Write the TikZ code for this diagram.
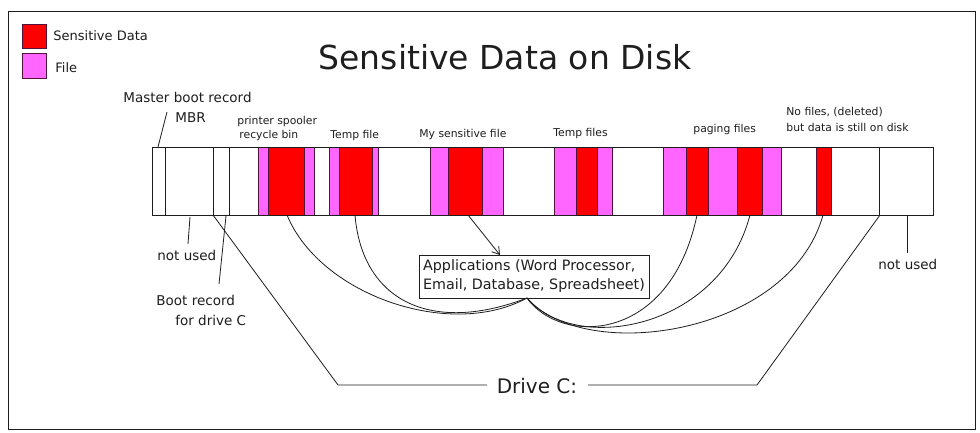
\documentclass[tikz,border=0pt]{standalone}
\usepackage{fontspec}
\setmainfont{DejaVu Sans}
\usetikzlibrary{arrows.meta}
\definecolor{sens}{RGB}{255,0,0}
\definecolor{filec}{RGB}{255,102,255}
\definecolor{edgec}{RGB}{80,20,60}
\definecolor{ink}{RGB}{30,30,30}
\begin{document}
\begin{tikzpicture}[x=1pt,y=-1pt,line width=0.8pt,
  ln/.style={draw=ink,line width=0.8pt},
  sblk/.style={fill=sens,draw=edgec,line width=0.6pt},
  fblk/.style={fill=filec,draw=edgec,line width=0.6pt},
  small/.style={inner sep=0pt,anchor=base west,text=ink,font=\fontsize{10.8}{13}\selectfont},
  mid/.style={inner sep=0pt,anchor=base west,text=ink,font=\fontsize{13.5}{16}\selectfont},
  leg/.style={inner sep=0pt,anchor=base west,text=ink,font=\fontsize{13}{16}\selectfont}]
\useasboundingbox (0,0) rectangle (980,432);
\fill[white] (0,0) rectangle (980,432);
% frame
\draw[ink,line width=1pt] (8,11) rectangle (975,429);
% legend
\draw[sblk] (22,24) rectangle (46,48);
\draw[fblk] (22,53) rectangle (46,78);
\node[leg] (lsens) at (53,40) {Sensitive Data};
\node[leg] (lfile) at (55,72) {File};
% title
\node[inner sep=0pt,anchor=base,text=ink,font=\fontsize{33}{38}\selectfont] (title) at (505,69) {Sensitive Data on Disk};
% disk bar blocks
\draw[fblk] (258,147) rectangle (268,215);
\draw[sblk] (268,147) rectangle (304,215);
\draw[fblk] (304,147) rectangle (314,215);
\draw[fblk] (329,147) rectangle (339,215);
\draw[sblk] (339,147) rectangle (372,215);
\draw[fblk] (372,147) rectangle (378,215);
\draw[fblk] (430,147) rectangle (448,215);
\draw[sblk] (448,147) rectangle (482,215);
\draw[fblk] (482,147) rectangle (503,215);
\draw[fblk] (554,147) rectangle (576,215);
\draw[sblk] (576,147) rectangle (597,215);
\draw[fblk] (597,147) rectangle (612,215);
\draw[fblk] (663,147) rectangle (686,215);
\draw[sblk] (686,147) rectangle (708,215);
\draw[fblk] (708,147) rectangle (737,215);
\draw[sblk] (737,147) rectangle (762,215);
\draw[fblk] (762,147) rectangle (781,215);
\draw[sblk] (816,147) rectangle (831,215);
\draw[ln] (165,147) -- (165,215);
\draw[ln] (213,147) -- (213,215);
\draw[ln] (229,147) -- (229,215);
\draw[ln] (879,147) -- (879,215);
\draw[ln] (152,147) rectangle (933,215);
% top labels
\node[mid] (mbrtitle) at (123,102) {Master boot record};
\node[mid] (mbr) at (175,122) {MBR};
\node[small] (spool) at (237,124) {printer spooler};
\node[small] (recyc) at (239,138) {recycle bin};
\node[small] (tmp1) at (330,138) {Temp file};
\node[small] (mysens) at (419,137) {My sensitive file};
\node[small] (tmp2) at (553,136) {Temp files};
\node[small] (paging) at (693,132) {paging files};
\node[small] (nofiles) at (786,115) {No files, (deleted)};
\node[small] (butdata) at (786,131) {but data is still on disk};
\coordinate (mbrtop) at (167,112);
\coordinate (mbrbot) at (158,147);
\draw[ln] (mbrbot) -- (mbrtop);
% bottom labels
\node[mid] (nu1) at (157,260) {not used};
\node[mid] (boot1) at (156,305) {Boot record};
\node[mid] (boot2) at (175,325) {for drive C};
\node[mid] (nu2) at (878,269) {not used};
\coordinate (nu1a) at (190,217);
\coordinate (nu1b) at (188,244);
\draw[ln] (nu1a) -- (nu1b);
\coordinate (bra) at (226,216);
\coordinate (brb) at (219,284);
\draw[ln] (bra) -- (brb);
\coordinate (nu2a) at (907,215);
\coordinate (nu2b) at (907,253);
\draw[ln] (nu2a) -- (nu2b);
% applications box
\node[draw=ink,line width=0.8pt,inner sep=0pt,minimum width=230pt,minimum height=43pt,text=ink,
  font=\fontsize{14.3}{19}\selectfont,align=left] (apps) at (534,276.5)
  {Applications (Word Processor,\\Email, Database, Spreadsheet)};
\coordinate (hub) at (527,298);
\coordinate (s1) at (287,215);
\coordinate (s2) at (355,215);
\coordinate (s3) at (468,215);
\coordinate (s4) at (697,215);
\coordinate (s5) at (750,215);
\coordinate (s6) at (823,215);
\draw[ln,-{Straight Barb[length=7pt,width=9pt]}] (s3) -- (500,255);
\draw[ln] (s1) .. controls (320,295) and (450,340) .. (hub);
\draw[ln] (s2) .. controls (362,300) and (430,335) .. (hub);
\draw[ln] (hub) .. controls (560,345) and (670,345) .. (s4);
\draw[ln] (hub) .. controls (575,355) and (720,330) .. (s5);
\draw[ln] (hub) .. controls (585,365) and (790,335) .. (s6);
% drive C
\node[inner sep=0pt,anchor=base,text=ink,font=\fontsize{20}{24}\selectfont] (drv) at (537,393) {Drive C:};
\coordinate (dl0) at (213,215);
\coordinate (dl1) at (338,385);
\coordinate (dl2) at (487,385);
\coordinate (dr0) at (880,215);
\coordinate (dr1) at (757,385);
\coordinate (dr2) at (588,385);
\draw[ln] (dl0) -- (dl1) -- (dl2);
\draw[ln] (dr2) -- (dr1) -- (dr0);
\end{tikzpicture}
\end{document}
